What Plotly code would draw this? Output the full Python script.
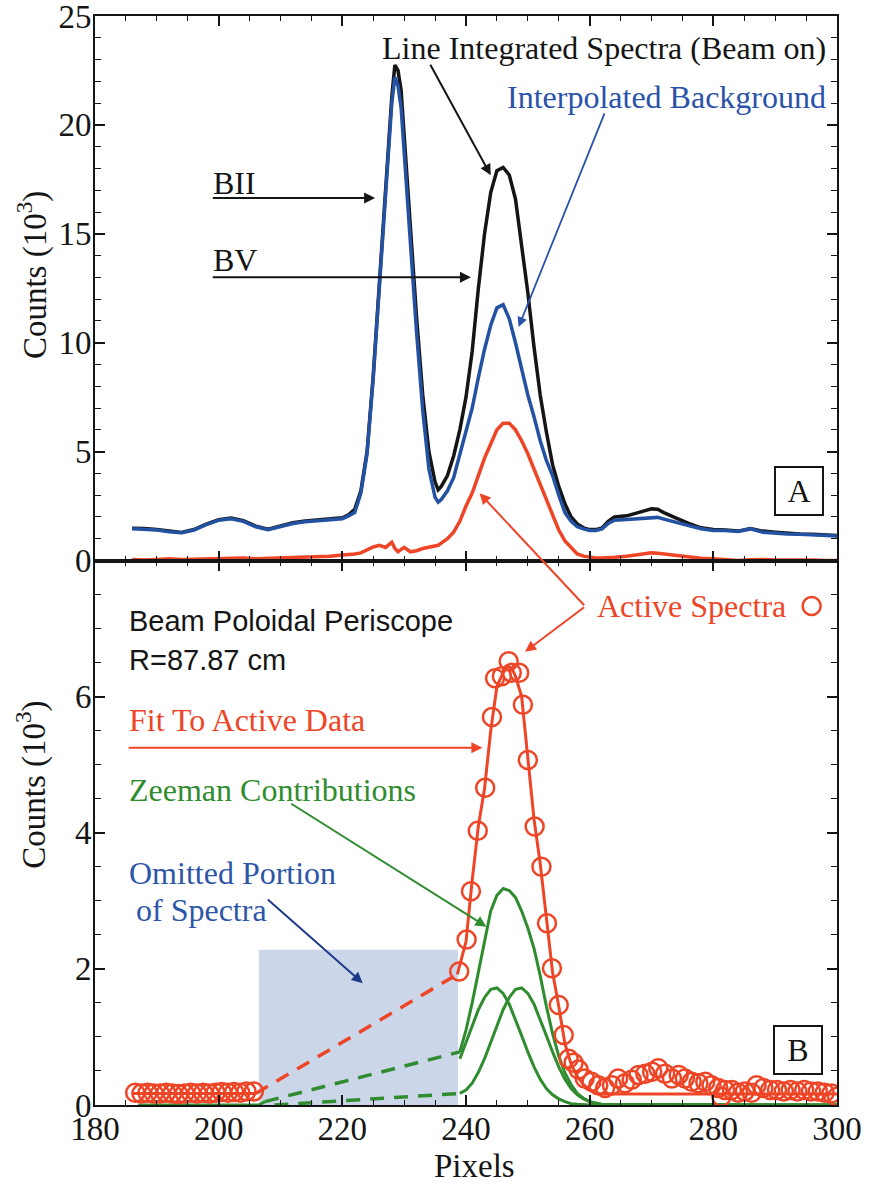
import plotly.graph_objects as go
from plotly.subplots import make_subplots

# ---------------- data: panel A (line integrated spectra) ----------------
x_top = [186, 188, 190, 192, 194, 196, 198, 200, 202, 204, 206, 208, 210, 212, 214, 216, 218, 220,
         221, 222, 223, 224, 225, 226, 227, 228, 228.5, 229, 229.5,
         230, 231, 232, 233, 234, 235, 235.5,
         236, 237, 238, 239, 240, 241, 242, 243, 244, 245, 246, 247, 248, 249, 250, 251, 252, 253,
         254, 255, 256, 257, 258, 259, 260, 261, 262, 263,
         264, 266, 268, 270, 271,
         272, 274, 276, 278, 280, 282, 284, 286, 288, 290, 292, 294, 296, 298, 300]

beam_on = [1.48, 1.47, 1.42, 1.35, 1.29, 1.42, 1.67, 1.87, 1.95, 1.83, 1.58, 1.44, 1.58, 1.73, 1.81, 1.85, 1.9, 1.96,
           2.1, 2.35, 3.2, 5.0, 8.5, 12.8, 17.0, 21.3, 22.75, 22.5, 21.6,
           19.5, 15.0, 11.2, 7.6, 5.0, 3.6, 3.25,
           3.4, 3.9, 4.8, 6.0, 7.5, 9.6, 12.5, 15.0, 16.9, 17.9, 18.05, 17.7, 16.6, 14.5, 12.3, 9.8, 7.6, 5.9,
           4.4, 3.4, 2.6, 2.0, 1.68, 1.5, 1.42, 1.42, 1.5, 1.8,
           2.0, 2.05, 2.2, 2.37, 2.35,
           2.2, 1.95, 1.7, 1.5, 1.42, 1.4, 1.35, 1.47, 1.35, 1.3, 1.25, 1.22, 1.2, 1.17, 1.15]

background = [1.46, 1.45, 1.4, 1.32, 1.27, 1.4, 1.65, 1.85, 1.92, 1.8, 1.55, 1.41, 1.55, 1.7, 1.78, 1.82, 1.87, 1.92,
              2.05, 2.2, 3.1, 4.9, 8.4, 12.6, 16.8, 21.0, 22.2, 21.8, 20.8,
              18.8, 14.3, 10.5, 6.9, 4.2, 2.9, 2.68,
              2.8, 3.2, 3.8, 4.9, 6.0, 7.0, 8.4, 9.7, 10.8, 11.6, 11.75, 11.1, 10.0, 8.8, 7.6, 6.6, 5.5, 4.6,
              3.9, 3.0, 2.2, 1.8, 1.55, 1.45, 1.38, 1.38, 1.45, 1.7,
              1.85, 1.88, 1.92, 1.99, 1.98,
              1.9, 1.75, 1.6, 1.46, 1.38, 1.38, 1.33, 1.45, 1.3, 1.25, 1.22, 1.2, 1.18, 1.15, 1.12]

active_top = [0.05, 0.02, 0.05, 0.08, 0.05, 0.06, 0.1, 0.08, 0.1, 0.12, 0.08, 0.1, 0.1, 0.12, 0.15, 0.18, 0.2, 0.25,
              0.27, 0.3, 0.35, 0.5, 0.62, 0.7, 0.6, 0.84, 0.55, 0.4, 0.5,
              0.6, 0.4, 0.45, 0.55, 0.6, 0.65, 0.7,
              0.8, 1.0, 1.3, 1.8, 2.5, 3.1, 3.9, 4.7, 5.35, 6.0, 6.3, 6.3, 6.0, 5.5, 4.9, 4.2, 3.4, 2.8,
              2.0, 1.4, 0.9, 0.6, 0.3, 0.2, 0.15, 0.12, 0.12, 0.15,
              0.15, 0.2, 0.28, 0.35, 0.33,
              0.3, 0.22, 0.15, 0.1, 0.08, 0.02, 0.0, 0.03, 0.05, 0.02, 0.03, 0.0, 0.02, 0.0, 0.0]

# ---------------- data: panel B (active spectra and fit) ----------------
active_x = [186.5, 187.5, 188.5, 189.5, 190.5, 191.5, 192.5, 193.5, 194.5, 195.5,
            196.5, 197.5, 198.5, 199.5, 200.5, 201.5, 202.5, 203.5, 204.5, 205.7,
            238.9, 240.1, 240.8, 241.9, 243.1, 244.2, 244.7, 245.8, 246.9, 247.4,
            248.6, 249.2, 250.0, 251.1, 252.2, 253.1, 253.9, 255.0, 255.8, 256.6,
            257.4, 258.2, 259.2, 260.3, 261.4, 262.5, 263.6, 264.6, 265.7, 266.8,
            267.9, 269.0, 270.1, 271.1, 272.2, 273.3, 274.4, 275.4, 276.5, 277.6,
            278.7, 279.7, 280.8, 281.3, 281.9, 283.0, 284.0, 285.1, 286.2, 287.0,
            288.1, 289.2, 290.3, 291.4, 292.5, 293.6, 294.7, 295.8, 296.9, 298.0,
            299.1, 300.0]
active_y = [0.18, 0.17, 0.18, 0.17, 0.17, 0.18, 0.17, 0.16, 0.17, 0.18,
            0.17, 0.18, 0.17, 0.18, 0.19, 0.18, 0.19, 0.18, 0.2, 0.2,
            1.96, 2.43, 3.14, 4.03, 4.66, 5.70, 6.27, 6.30, 6.52, 6.35,
            6.35, 5.88, 5.07, 4.09, 3.50, 2.67, 2.01, 1.47, 1.03, 0.68,
            0.62, 0.52, 0.39, 0.34, 0.29, 0.25, 0.29, 0.39, 0.32, 0.37,
            0.44, 0.46, 0.49, 0.54, 0.46, 0.39, 0.44, 0.39, 0.34, 0.32,
            0.34, 0.29, 0.25, 0.12, 0.22, 0.22, 0.18, 0.2, 0.18, 0.29,
            0.25, 0.22, 0.22, 0.2, 0.22, 0.2, 0.22, 0.2, 0.2, 0.18,
            0.17, 0.12]

fit_left_x = [186, 206]
fit_left_y = [0.17, 0.17]
fit_omit_x = [206, 238.6]
fit_omit_y = [0.17, 1.92]
fit_x = [238.6, 239, 240, 241, 242, 243, 244, 245, 246, 246.8, 247.5, 248, 249, 250, 251, 252, 253,
         254, 255, 256, 257, 258, 259, 260, 261, 262, 300]
fit_y = [1.92, 2.05, 2.4, 3.3, 4.1, 4.65, 5.5, 6.15, 6.35, 6.45, 6.4, 6.3, 6.0, 5.1, 4.2, 3.55, 2.75,
         1.95, 1.45, 0.9, 0.6, 0.42, 0.3, 0.22, 0.17, 0.16, 0.16]

zee_base_x = [187, 206.5, 207.5]
zee_base_y = [0.0, 0.0, 0.05]
zee_omit_upper_x = [207.5, 239]
zee_omit_upper_y = [0.05, 0.78]
zee_omit_lower_x = [209, 239]
zee_omit_lower_y = [0.0, 0.17]
zee_x = [239, 240, 241, 242, 243, 244, 245, 246, 247, 248, 249, 250, 251, 252, 253, 254, 255,
         256, 257, 258, 259, 260, 261, 262, 300]
zee_total = [0.78, 1.1, 1.5, 1.95, 2.45, 2.85, 3.08, 3.18, 3.15, 3.05, 2.85, 2.6, 2.3, 1.9, 1.45, 1.05, 0.72,
             0.47, 0.3, 0.17, 0.1, 0.05, 0.02, 0.0, 0.0]
zee_left = [0.68, 0.92, 1.17, 1.40, 1.58, 1.70, 1.72, 1.64, 1.48, 1.26, 1.02, 0.78, 0.56, 0.38, 0.24, 0.15, 0.09,
            0.05, 0.02, 0.01, 0.0, 0.0, 0.0, 0.0, 0.0]
zee_right = [0.17, 0.22, 0.32, 0.48, 0.68, 0.92, 1.17, 1.40, 1.58, 1.70, 1.72, 1.64, 1.48, 1.26, 1.02, 0.78, 0.56,
             0.38, 0.24, 0.15, 0.09, 0.05, 0.03, 0.01, 0.0]

omitted_x = [206.5, 238.7]
omitted_y = [0.0, 2.28]

legend_circle_x = [295.9]
legend_circle_y = [7.33]

x_tick_vals = [180, 200, 220, 240, 260, 280, 300]
y_top_ticks = [0, 5, 10, 15, 20, 25]
y_bot_ticks = [0, 2, 4, 6, 8]
y_bot_text = ["0", "2", "4", "6", ""]

# ---------------- styles ----------------
BLACK = "#151515"
BLUE = "#2452A2"
RED = "#EE4527"
GREEN = "#2F8C2F"
SERIF = "Liberation Serif"
SANS = "Liberation Sans"
DASH = "14px,10px"

fig = make_subplots(rows=2, cols=1, shared_xaxes=True, vertical_spacing=0)

# panel A
fig.add_trace(go.Scatter(x=x_top, y=beam_on, mode="lines", line=dict(color=BLACK, width=3.5)), row=1, col=1)
fig.add_trace(go.Scatter(x=x_top, y=background, mode="lines", line=dict(color=BLUE, width=3.5)), row=1, col=1)
fig.add_trace(go.Scatter(x=x_top, y=active_top, mode="lines", line=dict(color=RED, width=3.5)), row=1, col=1)

# panel B
fig.add_shape(type="rect", xref="x2", yref="y2", x0=omitted_x[0], x1=omitted_x[1],
              y0=omitted_y[0], y1=omitted_y[1], fillcolor="#CBD6E9", line_width=0, layer="below")

fig.add_trace(go.Scatter(x=zee_base_x, y=zee_base_y, mode="lines", line=dict(color=GREEN, width=3)), row=2, col=1)
fig.add_trace(go.Scatter(x=zee_omit_upper_x, y=zee_omit_upper_y, mode="lines",
                         line=dict(color=GREEN, width=3.5, dash=DASH)), row=2, col=1)
fig.add_trace(go.Scatter(x=zee_omit_lower_x, y=zee_omit_lower_y, mode="lines",
                         line=dict(color=GREEN, width=3.5, dash=DASH)), row=2, col=1)
for ys in (zee_total, zee_left, zee_right):
    fig.add_trace(go.Scatter(x=zee_x, y=ys, mode="lines", line=dict(color=GREEN, width=3)), row=2, col=1)

fig.add_trace(go.Scatter(x=fit_left_x, y=fit_left_y, mode="lines", line=dict(color=RED, width=3)), row=2, col=1)
fig.add_trace(go.Scatter(x=fit_omit_x, y=fit_omit_y, mode="lines",
                         line=dict(color=RED, width=3.5, dash=DASH)), row=2, col=1)
fig.add_trace(go.Scatter(x=fit_x, y=fit_y, mode="lines", line=dict(color=RED, width=3)), row=2, col=1)
fig.add_trace(go.Scatter(x=active_x, y=active_y, mode="markers",
                         marker=dict(symbol="circle-open", size=18, color=RED, line=dict(width=2.5))),
              row=2, col=1)
fig.add_trace(go.Scatter(x=legend_circle_x, y=legend_circle_y, mode="markers", cliponaxis=False,
                         marker=dict(symbol="circle-open", size=18, color=RED, line=dict(width=2.5))),
              row=2, col=1)

# ---------------- axes ----------------
tickfont = dict(family=SERIF, size=33, color=BLACK)
xcommon = dict(range=[180, 300], tickmode="array", tickvals=x_tick_vals, ticks="inside", ticklen=10,
               tickwidth=1.5, tickcolor=BLACK,
               minor=dict(dtick=5, tick0=180, ticks="inside", ticklen=5, tickwidth=1.2, tickcolor=BLACK,
                          showgrid=False),
               showline=True, linewidth=2, linecolor=BLACK, mirror="allticks", showgrid=False,
               zeroline=False, tickfont=tickfont, ticklabeloverflow="allow", automargin=False)
fig.update_xaxes(**xcommon)
fig.update_xaxes(showticklabels=False, row=1, col=1)
fig.update_xaxes(showticklabels=True, ticklabelstandoff=-7, row=2, col=1)

ycommon = dict(ticks="inside", ticklen=10, tickwidth=1.5, tickcolor=BLACK,
               showline=True, linewidth=2, linecolor=BLACK, mirror="allticks", showgrid=False,
               zeroline=False, tickfont=tickfont, ticklabelstandoff=-5, ticklabeloverflow="allow",
               automargin=False)
fig.update_yaxes(**ycommon)
fig.update_yaxes(range=[0, 25], tickmode="array", tickvals=y_top_ticks,
                 minor=dict(dtick=1, tick0=0, ticks="inside", ticklen=6, tickwidth=1.2, tickcolor=BLACK,
                            showgrid=False), row=1, col=1)
fig.update_yaxes(range=[0, 8], tickmode="array", tickvals=y_bot_ticks, ticktext=y_bot_text,
                 minor=dict(dtick=0.5, tick0=0, ticks="inside", ticklen=6, tickwidth=1.2, tickcolor=BLACK,
                            showgrid=False), row=2, col=1)

# ---------------- annotations ----------------
ann = []


def text(x, y, s, color, xref="x", yref="y", size=32, family=SERIF, xanchor="center", **kw):
    ann.append(dict(x=x, y=y, xref=xref, yref=yref, text=s, showarrow=False, xanchor=xanchor,
                    yanchor="middle", font=dict(family=family, size=size, color=color), **kw))


def arrow(x, y, ax, ay, color, xref="x", yref="y", width=2):
    ann.append(dict(x=x, y=y, ax=ax, ay=ay, xref=xref, yref=yref, axref=xref, ayref=yref, text="",
                    showarrow=True, arrowhead=2, arrowsize=1.1, arrowwidth=width, arrowcolor=color,
                    standoff=0, startstandoff=0))


# panel A labels
text(262.3, 23.53, "Line Integrated Spectra (Beam on)", BLACK)
arrow(244.0, 17.69, 234.1, 22.83, BLACK)
text(272.35, 21.29, "Interpolated Background", "#2A52A8")
arrow(248.5, 10.72, 262.5, 20.6, "#2A52A8", width=1.8)
text(198.8, 17.33, "BII", BLACK, xanchor="left")
arrow(225.3, 16.64, 198.8, 16.64, BLACK)
text(198.8, 13.79, "BV", BLACK, xanchor="left")
arrow(240.8, 13.0, 198.8, 13.0, BLACK)
text(293.86, 3.17, "A", BLACK, bordercolor=BLACK, borderwidth=2, borderpad=0, width=46, height=46)

# panel B labels
text(185.2, 7.11, "Beam Poloidal Periscope", BLACK, xref="x2", yref="y2", size=29, family=SANS, xanchor="left")
text(185.2, 6.54, "R=87.87 cm", BLACK, xref="x2", yref="y2", size=29, family=SANS, xanchor="left")
text(185.2, 5.66, "Fit To Active Data", RED, xref="x2", yref="y2", xanchor="left")
arrow(242.65, 5.25, 185.2, 5.25, RED, xref="x2", yref="y2")
text(185.2, 4.63, "Zeeman Contributions", GREEN, xref="x2", yref="y2", xanchor="left")
arrow(243.3, 2.62, 211.5, 4.44, GREEN, xref="x2", yref="y2")
text(185.2, 3.41, "Omitted Portion", "#2E56A8", xref="x2", yref="y2", xanchor="left")
text(186.3, 2.87, "of Spectra", "#2E56A8", xref="x2", yref="y2", xanchor="left")
arrow(223.3, 1.79, 207.7, 3.04, "#1F3A8A", xref="x2", yref="y2")
text(276.5, 7.33, "Active Spectra", RED, xref="x2", yref="y2")
arrow(249.55, 6.66, 259.35, 7.33, RED, xref="x2", yref="y2")
# arrow crossing into panel A (head in panel A, tail next to the label in panel B)
ann.append(dict(x=0.5183, y=0.5617, xref="paper", yref="paper", ax=106, ay=113.4, text="",
                showarrow=True, arrowhead=2, arrowsize=1.1, arrowwidth=2, arrowcolor=RED,
                standoff=0, startstandoff=0))
text(293.7, 0.81, "B", BLACK, xref="x2", yref="y2", bordercolor=BLACK, borderwidth=2, borderpad=0,
     width=46, height=46)

# axis titles
text(-0.085, 0.762, "Counts (10<sup>3</sup>)", BLACK, xref="paper", yref="paper", size=33, textangle=-90)
text(-0.085, 0.294, "Counts (10<sup>3</sup>)", BLACK, xref="paper", yref="paper", size=33, textangle=-90)
text(0.511, -0.056, "Pixels", BLACK, xref="paper", yref="paper", size=33)

fig.update_layout(
    width=870, height=1184,
    margin=dict(l=95, r=33, t=16, b=79, autoexpand=False),
    paper_bgcolor="white", plot_bgcolor="white",
    showlegend=False, hovermode=False,
    annotations=ann,
)

fig.write_html("out.html")
